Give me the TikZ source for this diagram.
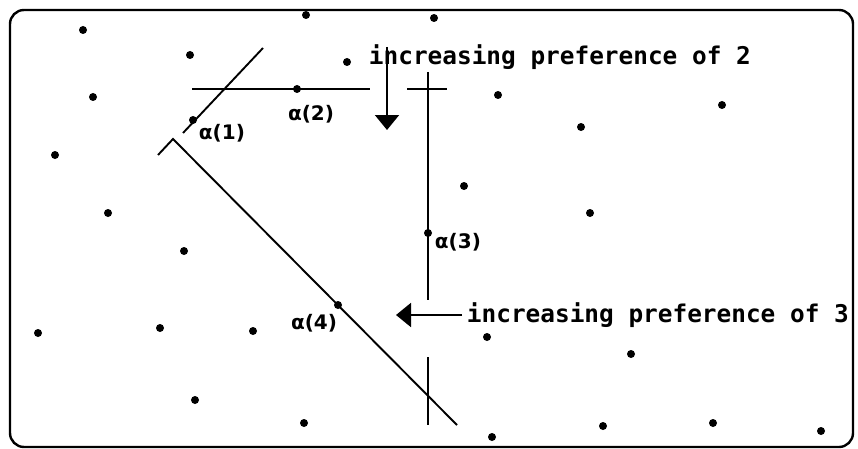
\documentclass[tikz,border=0pt]{standalone}
\usepackage{fontspec}
\usepackage{tikz}
\usetikzlibrary{positioning,arrows.meta}
\newfontfamily\notefont{DejaVu Sans Mono}
\newfontfamily\alphafont{DejaVu Sans}

\begin{document}
\begin{tikzpicture}[x = 1pt, y = 1pt, line width = 1.9pt,
    dot/.style = {circle, fill, inner sep = 0pt, minimum size = 8pt},
    pref/.style = {inner sep = 0pt, anchor = base west, font = {\notefont\bfseries\fontsize{24.4}{26}\selectfont}},
    alab/.style = {inner sep = 0pt, font = {\alphafont\bfseries\fontsize{20}{22}\selectfont}},
    bigarrow/.style = {-{Triangle[width = 24pt, length = 15pt]}}]
        \useasboundingbox (0, 0) rectangle (858, 448);
        \draw [line width = 2.4pt, rounded corners = 14pt] (10, 1) rectangle (853, 438);

        \foreach \x/\y [count = \i] in {306/433, 434/430, 83/418, 190/393, 347/386, 93/351, 498/353, 722/343, 581/321, 55/293, 464/262, 108/235, 590/235, 184/197, 38/115, 160/120, 253/117, 487/111, 631/94, 195/48, 304/25, 492/11, 603/22, 713/25, 821/17}
        \node [dot] (p\i) at (\x, \y) {};

        \node [dot] (a1) at (193, 328) {};
        \node [dot] (a2) at (297, 359) {};
        \node [dot] (a3) at (428, 215) {};
        \node [dot] (a4) at (338, 143) {};

        \node [alab, right = 0pt] (l1) at (198, 315) {α(1)};
        \node [alab] (l2) at (311, 334) {α(2)};
        \node [alab, right = 0pt] (l3) at (434, 206) {α(3)};
        \node [alab] (l4) at (314, 125) {α(4)};

        \coordinate (t1) at (263, 400);
        \coordinate (g1) at (183, 315);
        \coordinate (c4) at (173, 309);
        \coordinate (b1) at (158, 293);
        \coordinate (e4) at (457, 23);
        \coordinate (h0) at (192, 359);
        \coordinate (h1) at (370, 359);
        \coordinate (h2) at (407, 359);
        \coordinate (h3) at (447, 359);
        \coordinate (v0) at (428, 376);
        \coordinate (v1) at (428, 148);
        \coordinate (v2) at (428, 91);
        \coordinate (v3) at (428, 23);

        \draw (t1) -- (g1);
        \draw (b1) -- (c4) -- (e4);
        \draw (h0) -- (h1);
        \draw (h2) -- (h3);
        \draw (v0) -- (v1);
        \draw (v2) -- (v3);

        \node [pref] (n2) at (368, 383) {increasing preference of 2};
        \node [pref] (n3) at (466, 126) {increasing preference of 3};

        \coordinate (s2) at (387, 401);
        \coordinate (s3) at (462, 133);
        \draw [bigarrow] (s2) -- (387, 318);
        \draw [bigarrow] (s3) -- (396, 133);
    \end{tikzpicture}
\end{document}
